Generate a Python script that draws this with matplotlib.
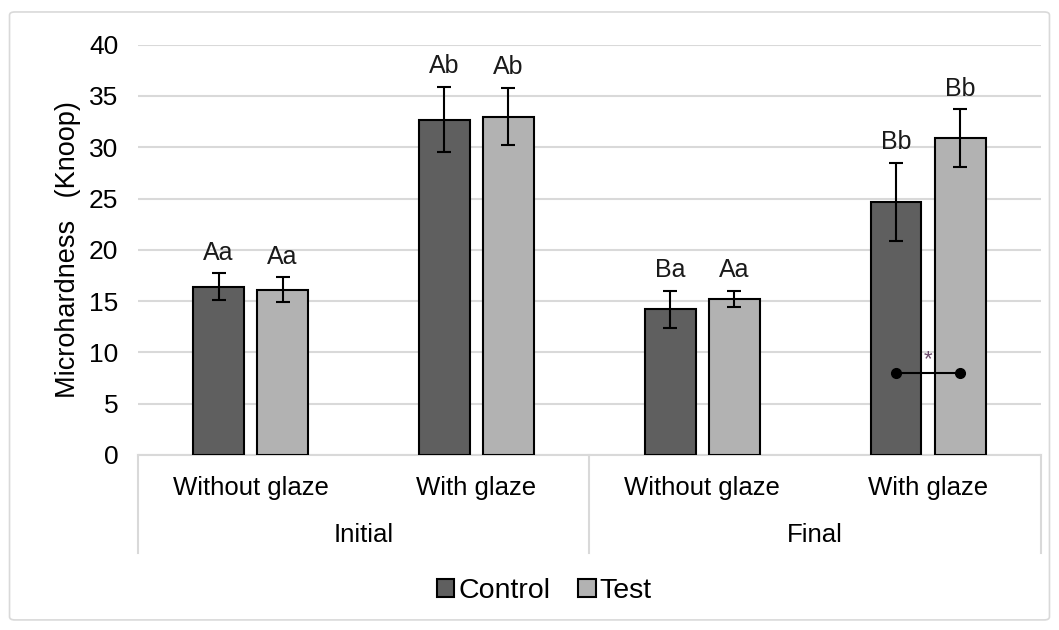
import numpy as np
import matplotlib
matplotlib.use("Agg")
import matplotlib.pyplot as plt
from matplotlib.patches import FancyBboxPatch

plt.rcParams['font.family'] = ['Liberation Sans', 'DejaVu Sans']

# data
subgroups = ['Without glaze', 'With glaze', 'Without glaze', 'With glaze']
groups = ['Initial', 'Final']
control = [16.4, 32.7, 14.2, 24.7]
control_err = [1.3, 3.2, 1.8, 3.8]
test = [16.1, 33.0, 15.2, 30.9]
test_err = [1.2, 2.8, 0.8, 2.8]
control_letters = ['Aa', 'Ab', 'Ba', 'Bb']
test_letters = ['Aa', 'Ab', 'Aa', 'Bb']
sig_y = 8.0

fig = plt.figure(figsize=(10.59, 6.3), dpi=100)
ax = fig.add_axes([0.130, 0.278, 0.853, 0.651])

# light border around the chart area
fig.patches.append(FancyBboxPatch((0.009, 0.016), 0.982, 0.965, boxstyle="round,pad=0,rounding_size=0.005",
                                  transform=fig.transFigure, fill=False, edgecolor='#d9d9d9', linewidth=1.2))

x = np.arange(len(subgroups))
w = 0.225
off = 0.142
err_kw = dict(ecolor='black', elinewidth=1.5, capsize=5, capthick=1.5)
ax.bar(x - off, control, w, yerr=control_err, color='#5f5f5f', edgecolor='black',
       linewidth=1.5, error_kw=err_kw, label='Control', zorder=3)
ax.bar(x + off, test, w, yerr=test_err, color='#b2b2b2', edgecolor='black',
       linewidth=1.5, error_kw=err_kw, label='Test', zorder=3)

for i in range(len(x)):
    ax.annotate(control_letters[i], (x[i] - off, control[i] + control_err[i]), xytext=(0, 6),
                textcoords='offset points', ha='center', va='bottom', fontsize=18, color='#1a1a1a')
    ax.annotate(test_letters[i], (x[i] + off, test[i] + test_err[i]), xytext=(0, 6),
                textcoords='offset points', ha='center', va='bottom', fontsize=18, color='#1a1a1a')

# significance marker in the last group
ax.plot([x[3] - off, x[3] + off], [sig_y, sig_y], color='black', lw=1.5, marker='o',
        markersize=7, zorder=4)
ax.text(x[3], sig_y + 0.3, '*', ha='center', va='bottom', fontsize=16, color='#6a4a6a', zorder=4)

ax.set_xlim(-0.5, 3.5)
ax.set_ylim(0, 40)
ax.set_yticks(np.arange(0, 41, 5))
ax.tick_params(axis='y', length=0, labelsize=19, pad=14)
ax.set_xticks([])
ax.yaxis.grid(True, color='#d9d9d9', linewidth=1.5)
ax.set_axisbelow(True)
for s in ['top', 'right', 'left']:
    ax.spines[s].set_visible(False)
ax.spines['bottom'].set_color('#d9d9d9')
ax.spines['bottom'].set_linewidth(1.5)
ax.set_ylabel('Microhardness   (Knoop)', fontsize=19.5, labelpad=6)

# two-level category axis
tr = ax.get_xaxis_transform()
for xv in [-0.5, 1.5, 3.5]:
    ax.plot([xv, xv], [0, -0.24], color='#d9d9d9', lw=1.5, transform=tr, clip_on=False)
for i, lab in enumerate(subgroups):
    ax.text(x[i], -0.08, lab, transform=tr, ha='center', va='center', fontsize=18.5)
for j, g in enumerate(groups):
    ax.text(2 * j + 0.5, -0.195, g, transform=tr, ha='center', va='center', fontsize=18.5)

fig.legend(loc='center', bbox_to_anchor=(0.514, 0.062), ncol=2, frameon=False, fontsize=20.5,
           handlelength=0.6, handleheight=0.6, handletextpad=0.15, columnspacing=1.0)

fig.savefig('out.png', dpi=100)
